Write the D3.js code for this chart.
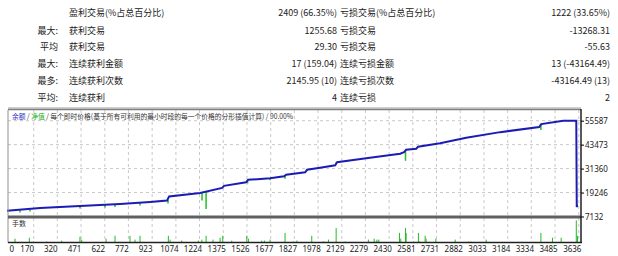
<!DOCTYPE html>
<html>
<head>
<meta charset="utf-8">
<script src="https://cdn.jsdelivr.net/npm/d3@7"></script>
<style>
    body { margin: 0; background: #fff; }
    text { font-family: "Noto Sans CJK SC", "Noto Sans", sans-serif; }
</style>
</head>
<body>
<div id="chart"></div>
<script>
// summary table
const leftHeads   = ["", "最大:", "平均", "最大:", "最多:", "平均:"];
const leftLabels  = ["盈利交易(%占总百分比)", "获利交易", "获利交易", "连续获利金额", "连续获利次数", "连续获利"];
const leftValues  = ["2409 (66.35%)", "1255.68", "29.30", "17 (159.04)", "2145.95 (10)", "4"];
const rightLabels = ["亏损交易(%占总百分比)", "亏损交易", "亏损交易", "连续亏损金额", "连续亏损次数", "连续亏损"];
const rightValues = ["1222 (33.65%)", "-13268.31", "-55.63", "13 (-43164.49)", "-43164.49 (13)", "2"];

// balance curve (trade number, balance)
const balTrades = [0, 210, 464, 719, 910, 1018, 1031, 1228, 1368, 1380, 1520, 1533, 1673, 1762, 1775,
    1896, 1908, 1991, 2087, 2099, 2284, 2500, 2525, 2538, 2602, 2614, 2754, 2920, 3136, 3384, 3397,
    3537, 3620, 3623, 3631];
const balValues = [10000, 11450, 12466, 13482, 14498, 15260, 17292, 19070, 21610, 22626, 24404, 25674,
    26436, 27452, 28214, 29484, 30754, 31770, 33040, 34564, 36596, 38882, 39644, 40914, 41422, 42438,
    44216, 47010, 49804, 52344, 53868, 55587, 55587, 12423, 12423];

// equity drawdowns below balance
const dipTrades = [83, 146, 464, 623, 687, 846, 1024, 1240, 1266, 1530, 1673, 1768, 2093, 2534, 3395, 3625];
const dipHighs  = [10300, 10500, 12466, 13100, 13300, 14200, 15500, 19500, 19800, 25400, 26436, 27700, 34564, 40700, 53868, 12423];
const dipLows   = [9164, 9672, 11196, 11704, 11958, 12720, 13736, 15260, 10942, 23896, 25420, 26182, 33548, 35326, 50820, 11704];

// lots per trade
const lotTrades = [51, 142, 167, 253, 348, 464, 475, 630, 687, 782, 814, 846, 1026, 1037, 1111, 1217,
    1239, 1266, 1310, 1355, 1372, 1429, 1525, 1535, 1620, 1637, 1673, 1768, 1821, 1843, 1938, 2008,
    2017, 2044, 2093, 2150, 2298, 2335, 2352, 2364, 2496, 2504, 2534, 2538, 2585, 2616, 2623, 2659,
    2665, 2727, 2850, 2934, 2950, 3047, 3395, 3469, 3524, 3620, 3628];
const lotSizes = [0.4, 0.5, 0.1, 0.1, 0.2, 0.6, 0.3, 0.4, 0.7, 0.7, 0.3, 0.7, 0.7, 0.3, 0.2, 0.2,
    0.3, 0.7, 0.3, 0.5, 0.7, 0.2, 0.7, 0.4, 0.2, 0.2, 0.3, 1.0, 0.1, 0.2, 0.7, 0.1,
    0.1, 0.3, 1.5, 0.1, 0.3, 0.4, 0.3, 0.3, 1.0, 0.4, 1.5, 1.0, 0.1, 1.0, 0.1, 0.7,
    0.4, 0.4, 0.3, 0.1, 0.1, 0.3, 1.0, 0.5, 0.5, 2.3, 0.7];

const xTicks = [0, 170, 320, 471, 622, 772, 923, 1074, 1224, 1375, 1526, 1677, 1827, 1978, 2129, 2279,
    2430, 2581, 2731, 2882, 3033, 3184, 3334, 3485, 3636];
const yTicks = [7132, 19246, 31360, 43473, 55587];

const W = 618, H = 256;
const svg = d3.select("#chart").append("svg")
    .attr("width", W)
    .attr("height", H);

// ---- summary table ----
const rowY = [12.5, 30.5, 47, 64, 81, 98];
const table = svg.append("g").attr("font-size", 9).attr("fill", "#222");
table.selectAll(".head").data(leftHeads).join("text")
    .attr("x", 58).attr("y", (d, i) => rowY[i]).attr("dy", "0.35em")
    .attr("text-anchor", "end").text(d => d);
table.selectAll(".llab").data(leftLabels).join("text")
    .attr("x", 69).attr("y", (d, i) => rowY[i]).attr("dy", "0.35em").text(d => d);
table.selectAll(".lval").data(leftValues).join("text")
    .attr("x", 337).attr("y", (d, i) => rowY[i]).attr("dy", "0.35em")
    .attr("text-anchor", "end").text(d => d);
table.selectAll(".rlab").data(rightLabels).join("text")
    .attr("x", 340).attr("y", (d, i) => rowY[i]).attr("dy", "0.35em").text(d => d);
table.selectAll(".rval").data(rightValues).join("text")
    .attr("x", 610).attr("y", (d, i) => rowY[i]).attr("dy", "0.35em")
    .attr("text-anchor", "end").text(d => d);

svg.append("line")
    .attr("x1", 8).attr("x2", 581).attr("y1", 108).attr("y2", 108)
    .attr("stroke", "#d0d0d0").attr("stroke-width", 2);

// ---- chart ----
const pLeft = 8, pRight = 581, pTop = 110, pMid = 217, pBottom = 242.5;

const x = d3.scaleLinear().domain([0, 3650]).range([7, 581]);
const y = d3.scaleLinear().domain([7132, 55587]).range([216.5, 120.7]);
const yLot = d3.scaleLinear().domain([0, 2.5]).range([pBottom, 218.5]);

// vertical grid
svg.append("g").selectAll("line").data(xTicks.slice(1)).join("line")
    .attr("x1", d => x(d)).attr("x2", d => x(d))
    .attr("y1", pTop).attr("y2", pBottom)
    .attr("stroke", "#c8c8c8").attr("stroke-dasharray", "3,3");

// horizontal grid
svg.append("g").selectAll("line").data(yTicks.slice(1)).join("line")
    .attr("x1", pLeft).attr("x2", pRight)
    .attr("y1", d => y(d)).attr("y2", d => y(d))
    .attr("stroke", "#c8c8c8").attr("stroke-dasharray", "3,3");

// legend
const legend = svg.append("text").attr("x", 12).attr("y", 118.5)
    .attr("font-size", 7).attr("fill", "#333")
    .attr("textLength", 281).attr("lengthAdjust", "spacingAndGlyphs");
legend.append("tspan").attr("fill", "#3030c0").text("余额");
legend.append("tspan").text(" / ");
legend.append("tspan").attr("fill", "#20b020").text("净值");
legend.append("tspan").text(" / 每个即时价格(基于所有可利用的最小时段的每一个价格的分形插值计算) / 90.00%");

// equity dips
svg.append("g").selectAll("line").data(dipTrades).join("line")
    .attr("x1", d => x(d)).attr("x2", d => x(d))
    .attr("y1", (d, i) => y(dipHighs[i])).attr("y2", (d, i) => y(dipLows[i]))
    .attr("stroke", "#22c022").attr("stroke-width", 1.5);

// balance
const balance = balTrades.map((t, i) => [t, balValues[i]]);
svg.append("path")
    .datum(balance)
    .attr("fill", "none")
    .attr("stroke", "#1c1cb4")
    .attr("stroke-width", 2)
    .attr("d", d3.line().x(d => x(d[0])).y(d => y(d[1])));

// lots panel
svg.append("g").selectAll("line").data(lotTrades).join("line")
    .attr("x1", d => x(d)).attr("x2", d => x(d))
    .attr("y1", pBottom).attr("y2", (d, i) => yLot(lotSizes[i]))
    .attr("stroke", "#22bb22").attr("stroke-width", 1);

svg.append("text").attr("x", 12).attr("y", 226).attr("font-size", 7).attr("fill", "#333").text("手数");

// frame
svg.append("line").attr("x1", pLeft).attr("x2", pRight).attr("y1", pTop - 0.5).attr("y2", pTop - 0.5)
    .attr("stroke", "#808080").attr("stroke-width", 1.5);
svg.append("line").attr("x1", pLeft).attr("x2", pLeft).attr("y1", pTop).attr("y2", pBottom)
    .attr("stroke", "#909090").attr("stroke-width", 1);
svg.append("line").attr("x1", pLeft).attr("x2", pRight).attr("y1", pMid).attr("y2", pMid)
    .attr("stroke", "#606060").attr("stroke-width", 3);
svg.append("line").attr("x1", pLeft).attr("x2", pRight + 1).attr("y1", pBottom).attr("y2", pBottom)
    .attr("stroke", "#202020").attr("stroke-width", 1.5);
svg.append("line").attr("x1", pRight).attr("x2", pRight).attr("y1", pTop - 1).attr("y2", pBottom)
    .attr("stroke", "#202020").attr("stroke-width", 1.5);

// right axis
const yAxisG = svg.append("g")
    .attr("transform", `translate(${pRight},0)`)
    .call(d3.axisRight(y).tickValues(yTicks).tickSize(3).tickFormat(d3.format("d")));
yAxisG.select(".domain").remove();
yAxisG.selectAll("text").attr("font-size", 8).attr("fill", "#222").attr("x", 4)
    .style("font-family", "\"Noto Sans\", sans-serif");

// bottom axis
const xAxisG = svg.append("g")
    .attr("transform", `translate(0,${pBottom})`)
    .call(d3.axisBottom(x).tickValues(xTicks).tickSize(0).tickFormat(d3.format("d")));
xAxisG.select(".domain").remove();
xAxisG.selectAll("text")
    .attr("font-size", 8).attr("fill", "#222")
    .attr("y", 4)
    .attr("dx", d => d === 0 ? 0 : -7)
    .attr("text-anchor", d => d === 0 ? "start" : "middle")
    .style("font-family", "\"Noto Sans\", sans-serif");
xAxisG.selectAll("text").filter(d => d === 0).attr("x", 2);
</script>
</body>
</html>
